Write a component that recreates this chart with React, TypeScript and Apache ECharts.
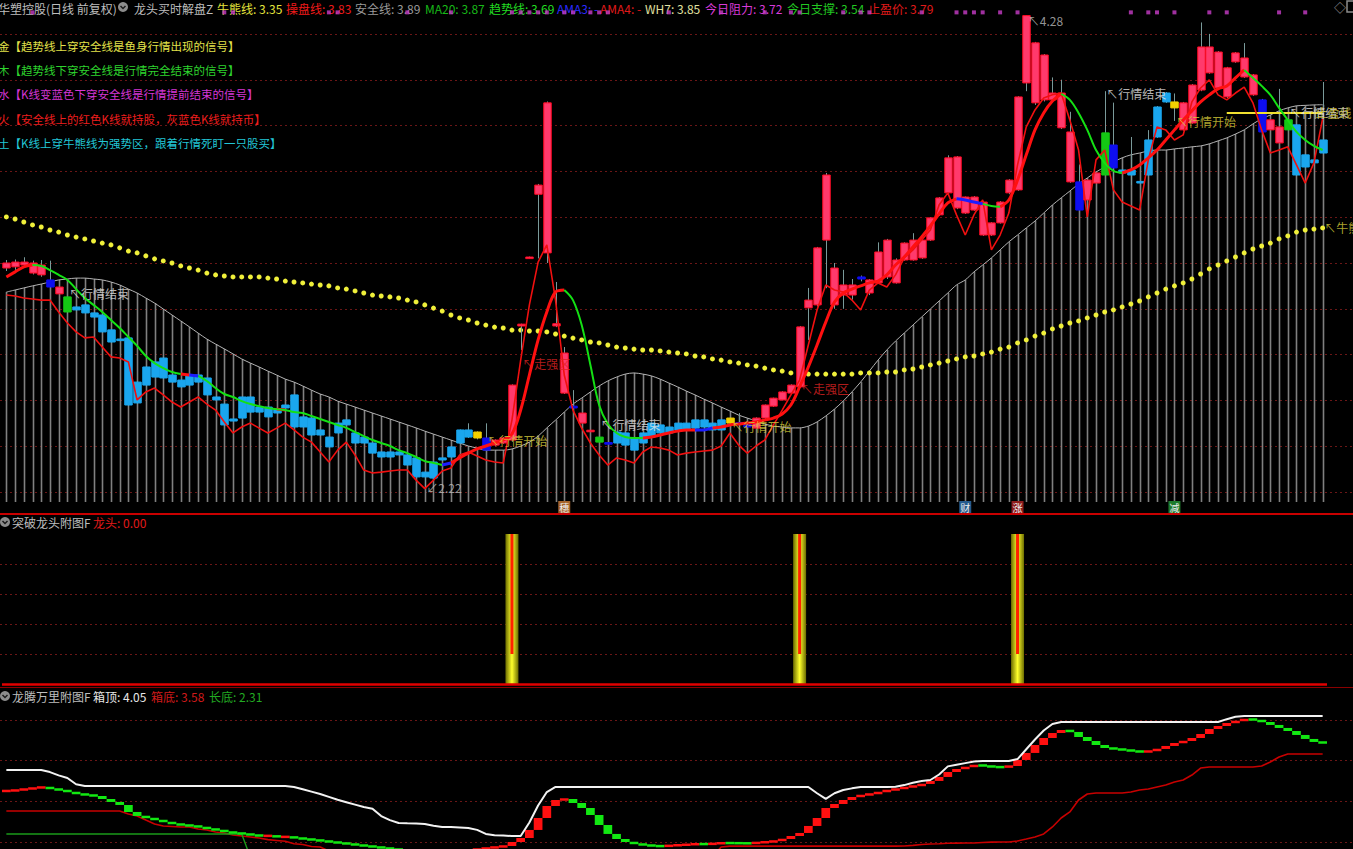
import { useEffect, useRef } from "react";
import * as echarts from "echarts";

const FONT = '"Noto Sans CJK SC", "Noto Sans", sans-serif';

// [open, close, low, high, colour class]
const candles: [number, number, number, number, string][] = [
  [3.178,3.200,3.165,3.213,'r'],[3.183,3.204,3.170,3.215,'r'],[3.191,3.204,3.180,3.225,'r'],[3.200,3.156,3.150,3.210,'r'],[3.191,3.148,3.140,3.213,'r'],
  [3.126,3.095,3.090,3.210,'b'],[3.095,3.065,3.060,3.100,'r'],[3.052,2.986,2.980,3.055,'g'],[3.008,2.995,2.990,3.010,'c'],[3.017,2.982,2.980,3.020,'c'],
  [2.982,2.964,2.960,2.985,'c'],[2.973,2.899,2.895,2.975,'c'],[2.908,2.855,2.850,2.910,'c'],[2.868,2.864,2.860,2.870,'c'],[2.873,2.580,2.575,2.875,'c'],
  [2.680,2.589,2.585,2.685,'c'],[2.746,2.667,2.660,2.750,'c'],[2.768,2.702,2.700,2.770,'c'],[2.785,2.698,2.695,2.790,'c'],[2.711,2.680,2.678,2.713,'c'],
  [2.689,2.659,2.655,2.690,'c'],[2.711,2.667,2.660,2.715,'c'],[2.711,2.680,2.678,2.715,'c'],[2.698,2.624,2.620,2.700,'c'],[2.615,2.602,2.600,2.617,'c'],
  [2.584,2.493,2.490,2.586,'c'],[2.519,2.510,2.508,2.520,'c'],[2.615,2.523,2.520,2.617,'c'],[2.615,2.549,2.545,2.617,'c'],[2.571,2.549,2.545,2.573,'c'],
  [2.571,2.528,2.525,2.573,'c'],[2.562,2.545,2.540,2.565,'c'],[2.580,2.567,2.565,2.582,'c'],[2.624,2.484,2.480,2.626,'c'],[2.528,2.484,2.480,2.530,'c'],
  [2.523,2.449,2.445,2.525,'c'],[2.471,2.449,2.445,2.473,'c'],[2.440,2.397,2.393,2.442,'c'],[2.501,2.458,2.455,2.503,'c'],[2.515,2.493,2.490,2.517,'c'],
  [2.458,2.414,2.410,2.460,'c'],[2.440,2.414,2.410,2.442,'c'],[2.414,2.370,2.366,2.416,'c'],[2.375,2.353,2.350,2.377,'c'],[2.375,2.353,2.350,2.377,'c'],
  [2.375,2.362,2.360,2.377,'c'],[2.362,2.318,2.315,2.364,'c'],[2.349,2.266,2.262,2.350,'c'],[2.287,2.266,2.220,2.290,'c'],[2.331,2.261,2.255,2.333,'c'],
  [2.349,2.340,2.335,2.350,'c'],[2.397,2.353,2.350,2.400,'c'],[2.471,2.414,2.410,2.473,'c'],[2.471,2.440,2.436,2.500,'c'],[2.462,2.436,2.430,2.465,'y'],
  [2.436,2.383,2.380,2.500,'b'],[2.405,2.427,2.400,2.430,'r'],[2.414,2.436,2.410,2.440,'r'],[2.427,2.667,2.420,2.670,'r'],[2.925,2.933,2.820,2.935,'r'],
  [3.220,3.226,3.218,3.228,'r'],[3.500,3.540,3.220,3.545,'r'],[3.899,3.244,3.200,3.905,'r'],[2.935,2.925,2.920,3.117,'r'],[2.807,2.632,2.628,2.833,'r'],
  [2.575,2.567,2.560,2.645,'b'],[2.545,2.501,2.498,2.550,'r'],[2.470,2.464,2.460,2.475,'r'],[2.440,2.418,2.415,2.442,'g'],[2.416,2.412,2.410,2.418,'b'],
  [2.462,2.414,2.410,2.464,'c'],[2.458,2.405,2.400,2.460,'c'],[2.436,2.383,2.380,2.438,'c'],[2.458,2.414,2.410,2.460,'c'],[2.501,2.440,2.436,2.503,'c'],
  [2.493,2.458,2.455,2.495,'c'],[2.484,2.458,2.455,2.486,'c'],[2.501,2.471,2.468,2.503,'c'],[2.501,2.471,2.468,2.503,'c'],[2.515,2.479,2.475,2.517,'c'],
  [2.515,2.484,2.480,2.517,'c'],[2.501,2.471,2.468,2.503,'c'],[2.515,2.471,2.468,2.517,'c'],[2.523,2.501,2.498,2.525,'y'],[2.503,2.499,2.484,2.545,'b'],
  [2.501,2.484,2.480,2.503,'b'],[2.479,2.523,2.476,2.526,'r'],[2.523,2.580,2.520,2.582,'r'],[2.575,2.610,2.572,2.612,'r'],[2.602,2.637,2.600,2.640,'r'],
  [2.632,2.667,2.630,2.670,'r'],[2.659,2.921,2.655,2.925,'r'],[3.004,3.038,2.864,3.091,'r'],[3.017,3.266,3.010,3.270,'r'],[3.300,3.584,3.090,3.593,'r'],
  [3.178,3.017,3.000,3.200,'r'],[3.104,3.060,3.000,3.170,'r'],[3.060,3.104,3.040,3.130,'r'],[3.139,3.130,3.120,3.145,'b'],[3.126,3.069,3.060,3.130,'r'],
  [3.113,3.248,3.110,3.290,'r'],[3.139,3.300,3.130,3.305,'r'],[3.213,3.113,3.110,3.220,'r'],[3.213,3.287,3.210,3.290,'r'],[3.213,3.300,3.210,3.330,'r'],
  [3.222,3.300,3.218,3.305,'r'],[3.300,3.397,3.296,3.400,'r'],[3.410,3.484,3.405,3.488,'r'],[3.506,3.659,3.500,3.670,'r'],[3.663,3.440,3.435,3.667,'r'],
  [3.488,3.418,3.414,3.490,'r'],[3.431,3.488,3.428,3.492,'r'],[3.466,3.322,3.318,3.470,'r'],[3.322,3.375,3.318,3.378,'r'],[3.375,3.466,3.372,3.470,'r'],
  [3.506,3.562,3.500,3.566,'r'],[3.519,3.925,3.515,3.928,'r'],[3.986,4.280,3.950,4.280,'r'],[4.161,3.899,3.890,4.165,'r'],[3.912,4.108,3.905,4.112,'r'],
  [3.942,3.912,3.908,4.010,'r'],[3.942,3.790,3.785,4.000,'r'],[3.772,3.554,3.550,3.860,'r'],[3.554,3.431,3.428,3.630,'b'],[3.475,3.562,3.470,3.566,'r'],
  [3.549,3.593,3.545,3.597,'r'],[3.584,3.768,3.580,3.950,'g'],[3.715,3.615,3.550,3.900,'b'],[3.606,3.593,3.590,3.610,'c'],[3.606,3.584,3.540,3.750,'c'],
  [3.556,3.552,3.550,3.558,'c'],[3.584,3.737,3.580,3.780,'c'],[3.750,3.881,3.746,3.885,'c'],[3.942,3.903,3.899,3.946,'c'],[3.903,3.877,3.820,3.940,'y'],
  [3.781,3.899,3.778,3.903,'r'],[3.811,3.977,3.808,3.981,'r'],[3.955,4.143,3.950,4.250,'r'],[4.143,4.030,4.026,4.200,'r'],[4.121,3.964,3.960,4.125,'r'],
  [3.925,4.052,3.920,4.056,'r'],[4.117,4.078,4.074,4.121,'r'],[4.095,4.012,4.008,4.160,'r'],[4.021,3.934,3.930,4.025,'r'],[3.912,3.772,3.768,3.916,'b'],
  [3.825,3.781,3.778,3.829,'r'],[3.794,3.724,3.720,3.960,'r'],[3.781,3.825,3.778,3.829,'g'],[3.803,3.584,3.580,3.807,'c'],[3.672,3.619,3.615,3.676,'c'],
  [3.650,3.637,3.633,3.654,'c'],[3.680,3.737,3.676,3.990,'c'],
];

const categories = candles.map((_, i) => `${i + 1}`);

// 牛熊线
const bullBearLine = [
  3.401,3.392,3.379,3.366,3.357,3.344,3.335,3.322,3.313,3.305,
  3.296,3.287,3.279,3.266,3.252,3.244,3.231,3.218,3.209,3.200,
  3.187,3.178,3.169,3.156,3.148,3.143,3.139,3.139,3.139,3.139,
  3.134,3.130,3.121,3.117,3.113,3.108,3.104,3.100,3.091,3.086,
  3.078,3.069,3.060,3.056,3.052,3.047,3.038,3.030,3.017,3.003,
  2.990,2.973,2.960,2.951,2.938,2.929,2.920,2.916,2.907,2.907,
  2.903,2.903,2.899,2.890,2.881,2.872,2.864,2.855,2.851,2.842,
  2.833,2.829,2.824,2.820,2.820,2.816,2.811,2.807,2.803,2.794,
  2.790,2.781,2.776,2.768,2.763,2.755,2.750,2.741,2.733,2.728,
  2.720,2.720,2.715,2.715,2.715,2.715,2.715,2.715,2.720,2.720,
  2.720,2.724,2.724,2.733,2.737,2.746,2.755,2.763,2.772,2.781,
  2.790,2.794,2.803,2.811,2.824,2.833,2.851,2.864,2.881,2.894,
  2.912,2.925,2.938,2.947,2.960,2.973,2.986,2.995,3.008,3.021,
  3.034,3.052,3.069,3.086,3.100,3.113,3.130,3.152,3.174,3.191,
  3.209,3.226,3.244,3.261,3.274,3.287,3.305,3.318,3.335,3.344,
  3.348,3.353,
];

// 安全线
const safeLine = [
  3.073,3.082,3.091,3.100,3.108,3.117,3.126,3.130,3.134,3.134,
  3.130,3.126,3.117,3.104,3.086,3.069,3.047,3.025,2.999,2.973,
  2.947,2.921,2.894,2.868,2.846,2.825,2.803,2.781,2.763,2.746,
  2.728,2.711,2.693,2.680,2.663,2.645,2.628,2.615,2.597,2.584,
  2.571,2.558,2.545,2.532,2.519,2.506,2.493,2.480,2.466,2.453,
  2.440,2.427,2.414,2.401,2.392,2.383,2.383,2.383,2.388,2.401,
  2.418,2.444,2.480,2.514,2.549,2.584,2.610,2.637,2.663,2.685,
  2.702,2.715,2.720,2.715,2.707,2.693,2.676,2.659,2.641,2.624,
  2.606,2.589,2.571,2.554,2.536,2.523,2.510,2.497,2.488,2.484,
  2.480,2.480,2.488,2.506,2.532,2.562,2.597,2.637,2.680,2.728,
  2.776,2.820,2.859,2.894,2.929,2.964,2.999,3.034,3.069,3.104,
  3.126,3.161,3.191,3.222,3.257,3.292,3.322,3.353,3.383,3.418,
  3.453,3.484,3.514,3.545,3.571,3.597,3.619,3.641,3.659,3.672,
  3.680,3.689,3.693,3.693,3.698,3.702,3.707,3.711,3.720,3.733,
  3.746,3.763,3.781,3.807,3.829,3.846,3.864,3.877,3.886,3.888,
  3.890,3.891,
];

// 趋势线: [value, state] r rising, g falling, b flat
const trendLine: [number, string][] = [
  [3.139,'r'],[3.161,'r'],[3.183,'r'],[3.191,'r'],[3.187,'g'],[3.169,'g'],[3.148,'g'],[3.126,'g'],[3.086,'g'],[3.047,'g'],
  [3.017,'g'],[2.986,'g'],[2.951,'g'],[2.916,'g'],[2.877,'g'],[2.838,'g'],[2.794,'g'],[2.763,'g'],[2.741,'g'],[2.724,'g'],
  [2.715,'g'],[2.711,'r'],[2.707,'b'],[2.685,'g'],[2.654,'g'],[2.628,'g'],[2.615,'g'],[2.597,'g'],[2.584,'g'],[2.575,'g'],
  [2.567,'g'],[2.562,'g'],[2.558,'r'],[2.549,'g'],[2.545,'g'],[2.532,'g'],[2.519,'g'],[2.506,'g'],[2.493,'g'],[2.480,'g'],
  [2.462,'g'],[2.444,'g'],[2.427,'g'],[2.414,'g'],[2.401,'g'],[2.383,'g'],[2.370,'g'],[2.353,'g'],[2.335,'g'],[2.327,'g'],
  [2.318,'g'],[2.327,'b'],[2.349,'r'],[2.370,'r'],[2.388,'r'],[2.401,'r'],[2.414,'r'],[2.427,'r'],[2.453,'r'],[2.558,'r'],
  [2.711,'r'],[2.864,'r'],[2.986,'r'],[3.073,'r'],[3.082,'r'],[3.038,'g'],[2.929,'g'],[2.755,'g'],[2.580,'g'],[2.497,'g'],
  [2.458,'g'],[2.440,'g'],[2.436,'g'],[2.436,'g'],[2.440,'r'],[2.449,'r'],[2.458,'r'],[2.466,'r'],[2.471,'r'],[2.471,'r'],
  [2.471,'b'],[2.480,'b'],[2.484,'r'],[2.493,'r'],[2.497,'r'],[2.501,'r'],[2.506,'r'],[2.514,'r'],[2.523,'r'],[2.541,'r'],
  [2.580,'r'],[2.659,'r'],[2.746,'r'],[2.842,'r'],[2.942,'r'],[3.030,'r'],[3.069,'r'],[3.086,'r'],[3.100,'r'],[3.113,'r'],
  [3.121,'r'],[3.148,'r'],[3.191,'r'],[3.226,'r'],[3.270,'r'],[3.314,'r'],[3.362,'r'],[3.414,'r'],[3.462,'r'],[3.480,'r'],
  [3.475,'b'],[3.466,'b'],[3.458,'b'],[3.449,'g'],[3.445,'g'],[3.475,'r'],[3.562,'r'],[3.672,'r'],[3.781,'r'],[3.855,'r'],
  [3.907,'r'],[3.938,'r'],[3.912,'g'],[3.855,'g'],[3.781,'g'],[3.693,'g'],[3.637,'g'],[3.602,'g'],[3.593,'g'],[3.606,'r'],
  [3.628,'r'],[3.659,'r'],[3.693,'r'],[3.737,'r'],[3.781,'r'],[3.824,'r'],[3.864,'r'],[3.903,'r'],[3.934,'r'],[3.960,'r'],
  [3.973,'r'],[4.008,'r'],[4.043,'r'],[4.008,'g'],[3.973,'g'],[3.934,'g'],[3.877,'g'],[3.824,'g'],[3.772,'g'],[3.737,'g'],
  [3.711,'g'],[3.693,'g'],
];

// 操盘线
const operateLine = [
  3.060,3.056,3.047,3.043,3.038,3.038,2.986,2.938,2.899,2.873,
  2.877,2.833,2.790,2.785,2.768,2.602,2.637,2.654,2.624,2.593,
  2.571,2.593,2.615,2.584,2.558,2.506,2.458,2.484,2.501,2.479,
  2.458,2.479,2.501,2.471,2.440,2.418,2.375,2.331,2.383,2.418,
  2.362,2.296,2.283,2.287,2.292,2.296,2.296,2.252,2.215,2.252,
  2.292,2.305,2.362,2.375,2.357,2.340,2.331,2.327,2.514,2.776,
  3.017,3.204,3.279,3.038,2.711,2.558,2.479,2.414,2.362,2.318,
  2.349,2.340,2.327,2.375,2.397,2.392,2.383,2.362,2.370,2.375,
  2.379,2.383,2.401,2.458,2.405,2.370,2.401,2.427,2.493,2.558,
  2.624,2.689,2.842,2.995,3.104,3.082,3.073,3.038,2.995,3.082,
  3.113,3.095,3.148,3.222,3.257,3.300,3.344,3.453,3.506,3.410,
  3.322,3.410,3.475,3.257,3.322,3.418,3.628,3.794,3.868,3.920,
  3.934,3.942,3.824,3.693,3.401,3.650,3.693,3.519,3.466,3.449,
  3.431,3.650,3.794,3.781,3.737,3.759,3.903,3.964,3.999,3.934,
  3.912,3.942,3.968,3.899,3.781,3.680,3.693,3.707,3.628,3.549,
  3.637,3.830,
];

const limitDots = [3,25,26,37,38,46,51,58,59,60,61,62,64,65,67,68,69,76,82,87,90,91,96,98,99,105,109,110,111,112,114,116,129,131,132,134,138,140,146,149];
const limitDotLevel = 4.294;
const takeProfitLevel = 3.855;
const takeProfitFrom = 140;

const headerExtras = { ma20: 3.87, wh7: 3.85, resist: 3.72, support: 3.54, stopPrice: 3.79 };

const annotations = [
  { i: 7, v: 3.065, text: '↖行情结束', color: '#e6e6e6' },
  { i: 55, v: 2.427, text: '↖行情开始', color: '#d8cc3a' },
  { i: 59, v: 2.759, text: '↖走强区', color: '#e02424' },
  { i: 68, v: 2.493, text: '↖行情结束', color: '#e6e6e6' },
  { i: 83, v: 2.484, text: '↖行情开始', color: '#d8cc3a' },
  { i: 91, v: 2.654, text: '↖走强区', color: '#e02424' },
  { i: 126, v: 3.938, text: '↖行情结束', color: '#e6e6e6' },
  { i: 134, v: 3.816, text: '↖行情开始', color: '#d8cc3a' },
  { i: 147, v: 3.855, text: '↖行情结束', color: '#e6e6e6' },
  { i: 150, v: 3.855, text: '止盈线', color: '#d8cc3a' },
  { i: 151, v: 3.353, text: '↖牛熊线', color: '#d8cc3a' },
];

const eventTags = [
  { i: 64, text: '穗', bg: '#a4622a' },
  { i: 110, text: '财', bg: '#245a8c' },
  { i: 116, text: '涨', bg: '#8e1c1c' },
  { i: 134, text: '减', bg: '#1c7a2c' },
];

// 突破龙头 signals
const dragonSignals = [58, 91, 116];

// 龙腾万里
const boxTop = [
  3.386,3.386,3.386,3.386,3.386,3.360,3.320,3.287,3.210,3.189,
  3.189,3.189,3.189,3.189,3.189,3.189,3.189,3.189,3.189,3.189,
  3.189,3.189,3.189,3.189,3.189,3.189,3.189,3.189,3.189,3.189,
  3.189,3.189,3.189,3.177,3.150,3.120,3.090,3.055,3.020,2.990,
  2.960,2.930,2.910,2.820,2.770,2.735,2.730,2.727,2.722,2.700,
  2.686,2.686,2.680,2.673,2.650,2.600,2.585,2.580,2.575,2.575,
  2.740,2.950,3.115,3.177,3.177,3.177,3.177,3.177,3.177,3.177,
  3.177,3.177,3.177,3.177,3.177,3.177,3.177,3.177,3.177,3.177,
  3.177,3.177,3.177,3.177,3.177,3.177,3.177,3.177,3.177,3.177,
  3.177,3.177,3.177,3.100,3.030,3.100,3.140,3.160,3.177,3.177,
  3.177,3.177,3.180,3.200,3.230,3.250,3.263,3.330,3.430,3.450,
  3.470,3.490,3.496,3.496,3.496,3.496,3.520,3.640,3.760,3.870,
  3.950,3.975,3.975,3.975,3.975,3.975,3.975,3.975,3.975,3.975,
  3.975,3.975,3.975,3.975,3.975,3.975,3.975,3.975,3.975,3.975,
  4.010,4.040,4.050,4.050,4.050,4.050,4.050,4.050,4.050,4.050,
  4.050,4.050,
];
const boxBottom = [
  2.882,2.882,2.882,2.882,2.882,2.882,2.882,2.882,2.882,2.882,
  2.882,2.882,2.882,2.882,2.845,2.821,2.771,2.722,2.698,2.692,
  2.686,2.686,2.661,2.649,2.624,2.612,2.587,2.575,2.563,2.550,
  2.530,2.520,2.510,2.480,2.470,2.445,2.440,2.390,2.390,2.390,
  2.390,2.360,2.360,2.350,2.350,2.350,2.310,2.260,2.220,2.220,
  2.220,2.220,2.220,2.220,2.220,2.220,2.220,2.220,2.220,2.220,
  2.220,2.220,2.220,2.220,2.220,2.220,2.220,2.220,2.220,2.220,
  2.220,2.220,2.220,2.220,2.220,2.220,2.220,2.220,2.220,2.220,
  2.220,2.320,2.440,2.450,2.450,2.450,2.450,2.450,2.450,2.450,
  2.450,2.450,2.450,2.450,2.450,2.450,2.450,2.450,2.450,2.450,
  2.450,2.450,2.450,2.452,2.460,2.470,2.477,2.480,2.485,2.487,
  2.488,2.489,2.495,2.500,2.501,2.501,2.514,2.538,2.563,2.600,
  2.686,2.796,2.870,3.017,3.091,3.103,3.103,3.103,3.103,3.115,
  3.140,3.152,3.177,3.201,3.238,3.263,3.324,3.410,3.423,3.423,
  3.423,3.423,3.423,3.423,3.435,3.484,3.545,3.582,3.582,3.582,
  3.582,3.582,
];
const longBottom = [
  2.60,2.60,2.60,2.60,2.60,2.60,2.60,2.60,2.60,2.60,
  2.60,2.60,2.60,2.60,2.60,2.60,2.60,2.60,2.60,2.60,
  2.60,2.60,2.60,2.60,2.60,2.60,2.60,2.60,2.31,2.31,
  2.31,2.31,2.31,2.31,2.31,2.31,2.31,2.31,2.31,2.31,
  2.31,2.31,2.31,2.31,2.31,2.31,2.31,2.31,2.31,2.31,
  2.31,2.31,2.31,2.31,2.31,2.31,2.31,2.31,2.31,2.31,
  2.31,2.31,2.31,2.31,2.31,2.31,2.31,2.31,2.31,2.31,
  2.31,2.31,2.31,2.31,2.31,2.31,2.31,2.31,2.31,2.31,
  2.31,2.31,2.31,2.31,2.31,2.31,2.31,2.31,2.31,2.31,
  2.31,2.31,2.31,2.31,2.31,2.31,2.31,2.31,2.31,2.31,
  2.31,2.31,2.31,2.31,2.31,2.31,2.31,2.31,2.31,2.31,
  2.31,2.31,2.31,2.31,2.31,2.31,2.31,2.31,2.31,2.31,
  2.31,2.31,2.31,2.31,2.31,2.31,2.31,2.31,2.31,2.31,
  2.31,2.31,2.31,2.31,2.31,2.31,2.31,2.31,2.31,2.31,
  2.31,2.31,2.31,2.31,2.31,2.31,2.31,2.31,2.31,2.31,
  2.31,2.31,
];
const midLine = [
  3.128,3.140,3.152,3.165,3.177,3.152,3.140,3.115,3.091,3.079,
  3.066,3.029,2.993,2.956,2.870,2.821,2.796,2.771,2.747,2.722,
  2.710,2.698,2.686,2.661,2.649,2.624,2.612,2.600,2.587,2.575,
  2.578,2.563,2.565,2.550,2.538,2.526,2.514,2.501,2.489,2.477,
  2.464,2.452,2.440,2.428,2.415,2.403,2.391,2.366,2.342,2.329,
  2.342,2.366,2.391,2.403,2.415,2.428,2.440,2.452,2.501,2.550,
  2.649,2.796,2.943,3.017,3.029,2.980,2.919,2.833,2.710,2.600,
  2.538,2.501,2.477,2.464,2.452,2.450,2.458,2.464,2.470,2.477,
  2.474,2.482,2.489,2.487,2.486,2.484,2.495,2.501,2.514,2.538,
  2.575,2.612,2.698,2.796,2.919,2.968,3.017,3.054,3.079,3.091,
  3.115,3.140,3.152,3.177,3.189,3.214,3.251,3.300,3.361,3.398,
  3.423,3.447,3.435,3.423,3.420,3.435,3.509,3.595,3.693,3.779,
  3.840,3.877,3.853,3.791,3.742,3.693,3.656,3.644,3.631,3.619,
  3.607,3.619,3.644,3.681,3.717,3.742,3.779,3.828,3.889,3.926,
  3.963,3.988,4.012,4.000,3.975,3.939,3.902,3.865,3.816,3.767,
  3.730,3.717,
];

const legendLines = [
  { text: '金【趋势线上穿安全线是鱼身行情出现的信号】', color: '#e2e24a' },
  { text: '木【趋势线下穿安全线是行情完全结束的信号】', color: '#2ed42e' },
  { text: '水【K线变蓝色下穿安全线是行情提前结束的信号】', color: '#d436d4' },
  { text: '火【安全线上的红色K线就持股，灰蓝色K线就持币】', color: '#ee1e1e' },
  { text: '土【K线上穿牛熊线为强势区，跟着行情死盯一只股买】', color: '#22c6d6' },
];

const candleStyle: Record<string, { fill: string; stroke: string }> = {
  r: { fill: '#ff3a6c', stroke: '#ff0a22' },
  c: { fill: '#1aa6ee', stroke: '#1aa6ee' },
  b: { fill: '#0e0ef0', stroke: '#0e0ef0' },
  g: { fill: '#14c814', stroke: '#14c814' },
  y: { fill: '#f2d000', stroke: '#f2d000' },
};
const trendColors: Record<string, string> = { r: '#ff1010', g: '#14e014', b: '#1c1cff' };

function txt(x: number, y: number, text: string, color: string, size = 12): any {
  return { type: 'text', x, y, silent: true, style: { text, fill: color, font: `${size}px ${FONT}`, verticalAlign: 'middle', align: 'left' } };
}
function icon(x: number, y: number): any {
  return {
    type: 'group', silent: true, children: [
      { type: 'circle', shape: { cx: x, cy: y, r: 5 }, style: { fill: '#8c8c8c' } },
      { type: 'polyline', shape: { points: [[x - 2.5, y - 1], [x, y + 1.6], [x + 2.5, y - 1]] }, style: { stroke: '#1a1a1a', lineWidth: 1.4, fill: 'none' } },
    ],
  };
}

function buildOption(): any {
  const N = candles.length;
  const last = (a: number[]) => a[a.length - 1].toFixed(2);
  let hiIdx = 0, loIdx = 0;
  candles.forEach((c, i) => { if (c[3] > candles[hiIdx][3]) hiIdx = i; if (c[2] < candles[loIdx][2]) loIdx = i; });

  const catAxis = (g: number) => ({ type: 'category', gridIndex: g, data: categories, boundaryGap: true, show: false });
  const hiddenX = (g: number) => ({ type: 'value', gridIndex: g, min: 0, max: 1, show: false });
  const valAxis = (g: number, min: number, max: number) => ({ type: 'value', gridIndex: g, min, max, show: false });
  const levelAxis = (g: number, min: number, max: number, interval: number) => ({
    type: 'value', gridIndex: g, min, max, interval,
    axisLine: { show: false }, axisTick: { show: false }, axisLabel: { show: false },
    splitLine: { show: true, lineStyle: { color: '#6a1616', type: [2, 3], width: 1 } },
  });

  const trendSeries = ['r', 'g', 'b'].map((c) => ({
    type: 'line', xAxisIndex: 0, yAxisIndex: 0, z: 6, silent: true, smooth: 0.35,
    symbol: 'none', connectNulls: false,
    lineStyle: { color: trendColors[c], width: c === 'g' ? 2 : 3 },
    data: trendLine.map((t, i) => (t[1] === c || (i + 1 < N && trendLine[i + 1][1] === c)) ? t[0] : null),
  }));

  const HY = 8;
  const header: any[] = [
    txt(-2, HY, '华塑控股(日线 前复权)', '#bdbdbd'),
    icon(123, HY - 1),
    txt(134, HY, '龙头买时解盘Z', '#bdbdbd'),
    txt(217, HY, `牛熊线: ${last(bullBearLine)}`, '#e4e43c'),
    txt(286, HY, `操盘线: ${last(operateLine)}`, '#f01a1a'),
    txt(355, HY, `安全线: ${last(safeLine)}`, '#9a9a9a'),
    txt(425, HY, `MA20: ${headerExtras.ma20.toFixed(2)}`, '#18b818'),
    txt(489, HY, `趋势线: ${trendLine[N - 1][0].toFixed(2)}`, '#22dd22'),
    txt(557, HY, 'AMA3: -', '#2a2aff'),
    txt(600, HY, 'AMA4: -', '#e01a1a'),
    txt(645, HY, `WH7: ${headerExtras.wh7.toFixed(2)}`, '#e0e0a0'),
    txt(705, HY, `今日阻力: ${headerExtras.resist.toFixed(2)}`, '#d83ad8'),
    txt(787, HY, `今日支撑: ${headerExtras.support.toFixed(2)}`, '#22c822'),
    txt(868, HY, `止盈价: ${headerExtras.stopPrice.toFixed(2)}`, '#e01a1a'),
    txt(1334, HY - 1, '◇', '#9a9a9a', 12),
    { type: 'rect', silent: true, shape: { x: 1347, y: 1, width: 8, height: 11 }, style: { fill: 'none', stroke: '#8c8c8c', lineWidth: 1.5 } },
  ];
  const legend = legendLines.map((l, k) => txt(-2, 46 + k * 24.2, l.text, l.color, 11.5));
  const panelTitles: any[] = [
    icon(5, 522), txt(12, 522, '突破龙头附图F', '#bdbdbd'), txt(93, 522, `龙头: ${(0).toFixed(2)}`, '#e01a1a'),
    icon(5, 696), txt(12, 696, '龙腾万里附图F', '#bdbdbd'),
    txt(93, 696, `箱顶: ${last(boxTop)}`, '#e6e6e6'),
    txt(151, 696, `箱底: ${last(boxBottom)}`, '#d01a1a'),
    txt(209, 696, `长底: ${last(longBottom)}`, '#22aa22'),
  ];
  const separators: any[] = [
    { type: 'line', silent: true, shape: { x1: 0, y1: 514, x2: 1353, y2: 514 }, style: { stroke: '#c80000', lineWidth: 2 } },
    { type: 'line', silent: true, shape: { x1: 0, y1: 687.5, x2: 1353, y2: 687.5 }, style: { stroke: '#8a0000', lineWidth: 1 } },
  ];

  return {
    animation: false,
    backgroundColor: '#000000',
    grid: [
      { left: 2, width: 1325, top: 11, height: 492.5 },
      { left: 0, right: 0, top: 34, height: 458 },
      { left: 2, width: 1325, top: 534, height: 150 },
      { left: 0, right: 0, top: 564, height: 90 },
      { left: 2, width: 1325, top: 688, height: 161 },
      { left: 0, right: 0, top: 720, height: 122 },
    ],
    xAxis: [catAxis(0), hiddenX(1), catAxis(2), hiddenX(3), catAxis(4), hiddenX(5)],
    yAxis: [
      valAxis(0, 2.15, 4.3), levelAxis(1, 2.2, 4.2, 0.2),
      valAxis(2, 0, 1), levelAxis(3, 0.2, 0.8, 0.2),
      valAxis(4, 2.415, 4.393), levelAxis(5, 2.5, 4.0, 0.5),
    ],
    graphic: [...separators, ...header, ...legend, ...panelTitles],
    series: [
      { type: 'line', xAxisIndex: 1, yAxisIndex: 1, data: [], silent: true },
      { type: 'line', xAxisIndex: 3, yAxisIndex: 3, data: [], silent: true },
      { type: 'line', xAxisIndex: 5, yAxisIndex: 5, data: [], silent: true },
      // 安全线 sticks
      {
        type: 'custom', xAxisIndex: 0, yAxisIndex: 0, z: 1, silent: true,
        data: safeLine.map((v, i) => [i, v]),
        renderItem: (params: any, api: any) => {
          const p = api.coord([api.value(0), api.value(1)]);
          const bottom = params.coordSys.y + params.coordSys.height - 1.5;
          const x = Math.round(p[0]) + 0.5;
          return { type: 'line', shape: { x1: x, y1: p[1], x2: x, y2: bottom }, style: { stroke: '#808080', lineWidth: 1.6 } };
        },
      },
      {
        name: '安全线', type: 'line', xAxisIndex: 0, yAxisIndex: 0, z: 2, silent: true, smooth: 0.3,
        symbol: 'none', lineStyle: { color: '#b4b4b4', width: 1 }, data: safeLine,
      },
      {
        name: '牛熊线', type: 'line', xAxisIndex: 0, yAxisIndex: 0, z: 3, silent: true,
        symbol: 'circle', symbolSize: 5, showSymbol: true, showAllSymbol: true,
        itemStyle: { color: '#f0f03a' }, lineStyle: { width: 0, opacity: 0 }, data: bullBearLine,
      },
      // candles
      {
        type: 'custom', xAxisIndex: 0, yAxisIndex: 0, z: 4, silent: true,
        data: candles.map((c, i) => [i, c[0], c[1], c[2], c[3]]),
        encode: { x: 0, y: [1, 2, 3, 4] },
        renderItem: (params: any, api: any) => {
          const i = params.dataIndex;
          const st = candleStyle[candles[i][4]];
          const pO = api.coord([i, api.value(1)]);
          const pC = api.coord([i, api.value(2)]);
          const pL = api.coord([i, api.value(3)]);
          const pH = api.coord([i, api.value(4)]);
          const w = api.size([1, 0])[0] * 0.86;
          const x = Math.round(pO[0]) + 0.5;
          const top = Math.min(pO[1], pC[1]);
          const h = Math.max(Math.abs(pO[1] - pC[1]), 1.6);
          return {
            type: 'group', children: [
              { type: 'line', shape: { x1: x, y1: pH[1], x2: x, y2: pL[1] }, style: { stroke: '#7a9a9a', lineWidth: 1 } },
              { type: 'rect', shape: { x: x - w / 2, y: top, width: w, height: h }, style: { fill: st.fill, stroke: st.stroke, lineWidth: 1 } },
            ],
          };
        },
      },
      {
        name: '操盘线', type: 'line', xAxisIndex: 0, yAxisIndex: 0, z: 5, silent: true,
        symbol: 'none', lineStyle: { color: '#f01010', width: 1.6 }, data: operateLine,
        markLine: {
          silent: true, symbol: 'none', label: { show: false },
          lineStyle: { color: '#f0e030', width: 2, type: 'solid' },
          data: [[{ coord: [categories[takeProfitFrom], takeProfitLevel] }, { coord: [categories[N - 1], takeProfitLevel] }]],
        },
      },
      ...trendSeries,
      {
        type: 'scatter', xAxisIndex: 0, yAxisIndex: 0, z: 7, silent: true,
        symbol: 'rect', symbolSize: 4, itemStyle: { color: '#c83cc8' },
        data: limitDots.map((i) => [i, limitDotLevel]),
      },
      {
        type: 'scatter', xAxisIndex: 0, yAxisIndex: 0, z: 9, silent: true,
        symbolSize: 1, itemStyle: { color: 'rgba(0,0,0,0)' },
        label: { show: true, position: 'right', distance: 1, fontSize: 12, fontFamily: FONT },
        data: [
          ...annotations.map((a) => ({ value: [a.i, a.v], label: { formatter: a.text, color: a.color } })),
          { value: [hiIdx, candles[hiIdx][3]], label: { formatter: `↖${candles[hiIdx][3].toFixed(2)}`, color: '#bdbdbd', offset: [0, 5] } },
          { value: [loIdx, candles[loIdx][2]], label: { formatter: `↙${candles[loIdx][2].toFixed(2)}`, color: '#bdbdbd', offset: [0, 0] } },
        ],
      },
      {
        type: 'custom', xAxisIndex: 0, yAxisIndex: 0, z: 8, silent: true,
        data: eventTags.map((e) => [e.i, 2.2]),
        renderItem: (params: any, api: any) => {
          const e = eventTags[params.dataIndex];
          const x = api.coord([e.i, 2.2])[0];
          const y = params.coordSys.y + params.coordSys.height - 2.5;
          return {
            type: 'group', children: [
              { type: 'rect', shape: { x: x - 6, y, width: 12, height: 12 }, style: { fill: e.bg } },
              { type: 'text', x, y: y + 6, style: { text: e.text, align: 'center', verticalAlign: 'middle', fill: '#eeeeee', font: `10px ${FONT}` } },
            ],
          };
        },
      },
      // 突破龙头
      {
        type: 'custom', xAxisIndex: 2, yAxisIndex: 2, z: 3, silent: true,
        data: dragonSignals.map((i) => [i, 1]),
        renderItem: (params: any, api: any) => {
          const i = dragonSignals[params.dataIndex];
          const top = api.coord([i, api.value(1)]);
          const bot = api.coord([i, 0]);
          const mid = api.coord([i, 0.2]);
          const w = 13;
          return {
            type: 'group', children: [
              {
                type: 'rect', shape: { x: top[0] - w / 2, y: top[1], width: w, height: bot[1] - top[1] },
                style: { fill: new echarts.graphic.LinearGradient(0, 0, 1, 0, [
                  { offset: 0, color: '#6c6c00' }, { offset: 0.5, color: '#ffff2a' }, { offset: 1, color: '#6c6c00' },
                ]) },
              },
              { type: 'rect', shape: { x: top[0] - 1.5, y: top[1], width: 3, height: mid[1] - top[1] }, style: { fill: '#ff2200' } },
            ],
          };
        },
      },
      {
        type: 'line', xAxisIndex: 2, yAxisIndex: 2, data: [], silent: true,
        markLine: { silent: true, symbol: 'none', label: { show: false }, lineStyle: { color: '#e00000', width: 2.5, type: 'solid' }, data: [{ yAxis: 0 }] },
      },
      // 龙腾万里
      {
        name: '箱底', type: 'line', xAxisIndex: 4, yAxisIndex: 4, z: 2, silent: true,
        symbol: 'none', lineStyle: { color: '#c80000', width: 1.6 }, data: boxBottom,
      },
      {
        name: '长底', type: 'line', xAxisIndex: 4, yAxisIndex: 4, z: 2, silent: true,
        symbol: 'none', lineStyle: { color: '#1a9a1a', width: 1.4 }, data: longBottom,
      },
      {
        type: 'custom', xAxisIndex: 4, yAxisIndex: 4, z: 3, silent: true,
        data: midLine.map((v, i) => [i, v]),
        renderItem: (params: any, api: any) => {
          const i = params.dataIndex;
          const cur = api.value(1);
          const prev = i > 0 ? midLine[i - 1] : cur;
          const p1 = api.coord([i, cur]);
          const p0 = api.coord([i, prev]);
          const w = api.size([1, 0])[0];
          const h = Math.max(Math.abs(p1[1] - p0[1]), 2.5);
          const cy = (p0[1] + p1[1]) / 2;
          return { type: 'rect', shape: { x: p1[0] - w / 2, y: cy - h / 2, width: w, height: h }, style: { fill: cur >= prev ? '#ff1010' : '#12e812' } };
        },
      },
      {
        name: '箱顶', type: 'line', xAxisIndex: 4, yAxisIndex: 4, z: 4, silent: true,
        symbol: 'none', lineStyle: { color: '#f2f2f2', width: 2 }, data: boxTop,
      },
    ],
  };
}

export default function App() {
  const ref = useRef<HTMLDivElement>(null);
  useEffect(() => {
    document.body.style.margin = '0';
    document.body.style.background = '#000';
    const chart = echarts.init(ref.current!, null, { renderer: 'svg' });
    chart.setOption(buildOption());
    return () => chart.dispose();
  }, []);
  return <div ref={ref} style={{ width: 1353, height: 849, background: '#000' }} />;
}
